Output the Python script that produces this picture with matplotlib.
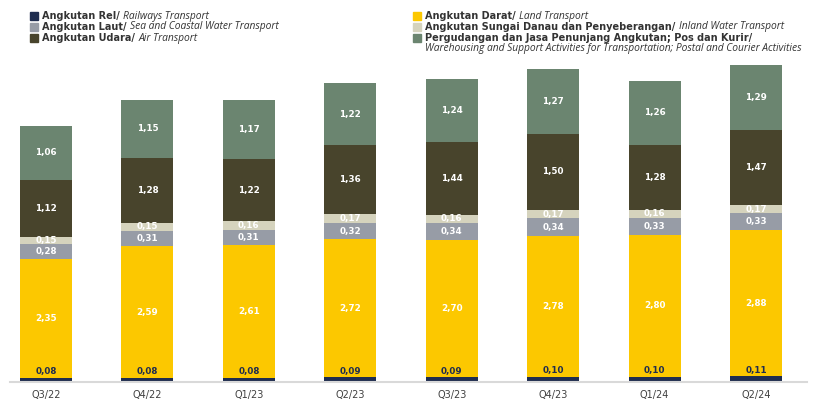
import matplotlib
matplotlib.use('Agg')
import matplotlib.pyplot as plt
import numpy as np

quarters = ['Q3/22', 'Q4/22', 'Q1/23', 'Q2/23', 'Q3/23', 'Q4/23', 'Q1/24', 'Q2/24']
rail   = [0.08, 0.08, 0.08, 0.09, 0.09, 0.10, 0.10, 0.11]
land   = [2.35, 2.59, 2.61, 2.72, 2.70, 2.78, 2.80, 2.88]
sea    = [0.28, 0.31, 0.31, 0.32, 0.34, 0.34, 0.33, 0.33]
inland = [0.15, 0.15, 0.16, 0.17, 0.16, 0.17, 0.16, 0.17]
air    = [1.12, 1.28, 1.22, 1.36, 1.44, 1.50, 1.28, 1.47]
ware   = [1.06, 1.15, 1.17, 1.22, 1.24, 1.27, 1.26, 1.29]

series = [rail, land, sea, inland, air, ware]
colors = ['#1f2d4f', '#fcc800', '#979ca6', '#d5d3bd', '#48442c', '#6b8570']

legend_left = [
    ('Angkutan Rel/', 'Railways Transport', colors[0]),
    ('Angkutan Laut/', 'Sea and Coastal Water Transport', colors[2]),
    ('Angkutan Udara/', 'Air Transport', colors[4]),
]
legend_right = [
    ('Angkutan Darat/', 'Land Transport', colors[1]),
    ('Angkutan Sungai Danau dan Penyeberangan/', 'Inland Water Transport', colors[3]),
    ('Pergudangan dan Jasa Penunjang Angkutan; Pos dan Kurir/', '', colors[5]),
]
legend_extra = 'Warehousing and Support Activities for Transportation; Postal and Courier Activities'

W, H = 822, 401
fig = plt.figure(figsize=(W / 100, H / 100), dpi=100)

# axes in pixel terms: x 10..807, baseline y=382, top y=60
ax = fig.add_axes([10 / W, (H - 382) / H, 797 / W, 322 / H])
px_per_unit = 50.8
ax.set_ylim(0, 322 / px_per_unit)
ax.set_xlim(-36 / 101.43, 7 + 51 / 101.43)

x = np.arange(len(quarters))
bw = 0.513
bottom = np.zeros(len(quarters))
for vals, c in zip(series, colors):
    ax.bar(x, vals, bw, bottom=bottom, color=c, edgecolor='none', zorder=2)
    bottom += np.array(vals)

def fmt(v):
    return ('%.2f' % v).replace('.', ',')

lab_kw = dict(ha='center', va='center', fontsize=6.3, fontweight='bold', zorder=3)
bottom = np.zeros(len(quarters))
for k, vals in enumerate(series):
    for i, v in enumerate(vals):
        if k == 0:
            ax.text(x[i], v + 0.12, fmt(v), color='#1f2d4f', **lab_kw)
        else:
            ax.text(x[i], bottom[i] + v / 2, fmt(v), color='white', **lab_kw)
    bottom += np.array(vals)

for s in ['top', 'right', 'left']:
    ax.spines[s].set_visible(False)
ax.spines['bottom'].set_color('#d9d9d9')
ax.spines['bottom'].set_linewidth(1.5)
ax.set_yticks([])
ax.set_xticks(x)
ax.set_xticklabels(quarters, fontsize=7, color='#404040')
ax.tick_params(axis='x', length=0, pad=6)

# legend drawn by hand: bold Indonesian part followed by italic English part
renderer = fig.canvas.get_renderer()

def legend_row(xp, yp, bold_txt, ital_txt, col):
    fig.patches.append(plt.Rectangle((xp / W, 1 - (yp + 3.5) / H), 8 / W, 7 / H,
                                     transform=fig.transFigure, color=col, figure=fig))
    t = fig.text((xp + 12) / W, 1 - yp / H, bold_txt + ' ', fontsize=7, fontweight='bold',
                 color='#333333', va='center', ha='left')
    bb = t.get_window_extent(renderer=renderer)
    if ital_txt:
        fig.text(bb.x1 / W, 1 - yp / H, ital_txt, fontsize=7.4, style='italic',
                 family='Open Sans', color='#333333', va='center', ha='left')

for j, (b, it, c) in enumerate(legend_left):
    legend_row(30, 16 + j * 11, b, it, c)
for j, (b, it, c) in enumerate(legend_right):
    legend_row(413, 16 + j * 11, b, it, c)
fig.text(425 / W, 1 - 49 / H, legend_extra, fontsize=7.4, style='italic',
         family='Open Sans', color='#333333', va='center', ha='left')

fig.savefig('out.png', dpi=100)
